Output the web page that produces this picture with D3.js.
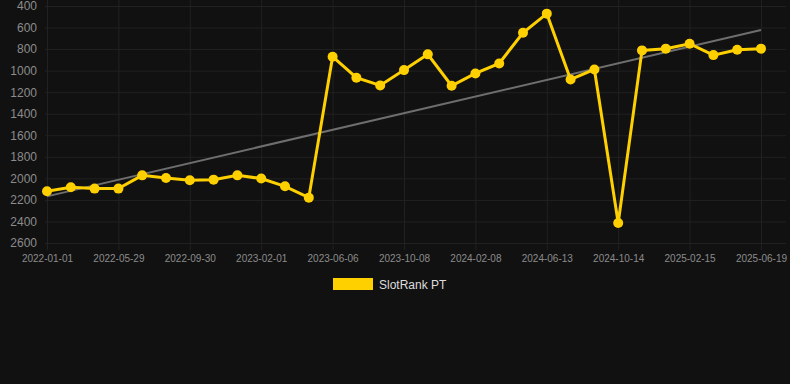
<!DOCTYPE html>
<html><head><meta charset="utf-8">
<script src="https://cdn.jsdelivr.net/npm/d3@7"></script>
<style>html,body{margin:0;padding:0;background:#111111;}svg{display:block;}</style>
</head><body>
<svg id="c" width="790" height="384"></svg>
<script>
const categories = ["2022-01-01","2022-02-19","2022-04-10","2022-05-29","2022-07-10","2022-08-20","2022-09-30","2022-11-10","2022-12-21","2023-02-01","2023-03-14","2023-04-25","2023-06-06","2023-07-17","2023-08-27","2023-10-08","2023-11-18","2023-12-29","2024-02-08","2024-03-20","2024-05-02","2024-06-13","2024-07-24","2024-09-03","2024-10-14","2024-11-24","2025-01-05","2025-02-15","2025-03-28","2025-05-08","2025-06-19"];
const rankValues = [2120,2083,2095,2095,1972,1996,2018,2012,1972,2002,2074,2179,871,1066,1137,995,849,1140,1026,933,648,471,1082,989,2414,812,796,750,856,806,796];
const trendValues = [2167,623];
const yTicks = [400,600,800,1000,1200,1400,1600,1800,2000,2200,2400,2600];
const seriesName = "SlotRank PT";

const svg = d3.select("#c");
const x = d3.scalePoint().domain(categories).range([47,761]);
const y = d3.scaleLinear().domain([400,2600]).range([6,243]);
const gridColor = "#212121";
const labelIdx = categories.map((d,i)=>i).filter(i=>i%3===0);

// horizontal grid
const yAxis = d3.axisLeft(y).tickValues(yTicks).tickSize(-(786-45)).tickFormat(d=>d).tickPadding(8);
const gy = svg.append("g").attr("transform","translate(45,0)").call(yAxis);
gy.select(".domain").remove();
gy.selectAll("line").attr("stroke",gridColor);
gy.selectAll("text").attr("fill","#8c8c8c").style("font","12px 'Liberation Sans', Arial, sans-serif");

// vertical grid
const xAxis = d3.axisBottom(x).tickValues(labelIdx.map(i=>categories[i])).tickSize(250).tickPadding(5);
const gx = svg.append("g").attr("transform","translate(0,0)").call(xAxis);
gx.select(".domain").remove();
gx.selectAll("line").attr("stroke",gridColor);
gx.selectAll("text").attr("fill","#8c8c8c").style("font","10px 'Liberation Sans', Arial, sans-serif");

// trend line
svg.append("line")
  .attr("x1",x(categories[0])).attr("y1",y(trendValues[0]))
  .attr("x2",x(categories[categories.length-1])).attr("y2",y(trendValues[1]))
  .attr("stroke","#6e6e6e").attr("stroke-width",2);

const data = categories.map((c,i)=>({c,v:rankValues[i]}));
const gold = "#ffd000";
svg.append("path").datum(data)
  .attr("d",d3.line().x(d=>x(d.c)).y(d=>y(d.v)))
  .attr("fill","none").attr("stroke",gold).attr("stroke-width",3).attr("stroke-linejoin","miter");
svg.append("g").selectAll("circle").data(data).join("circle")
  .attr("cx",d=>x(d.c)).attr("cy",d=>y(d.v)).attr("r",5).attr("fill",gold);

// legend
svg.append("rect").attr("x",333).attr("y",278).attr("width",40).attr("height",12).attr("fill",gold);
svg.append("text").attr("x",379).attr("y",289).text(seriesName)
  .attr("fill","#dddddd").style("font","12px 'Liberation Sans', Arial, sans-serif");
</script>
</body></html>
